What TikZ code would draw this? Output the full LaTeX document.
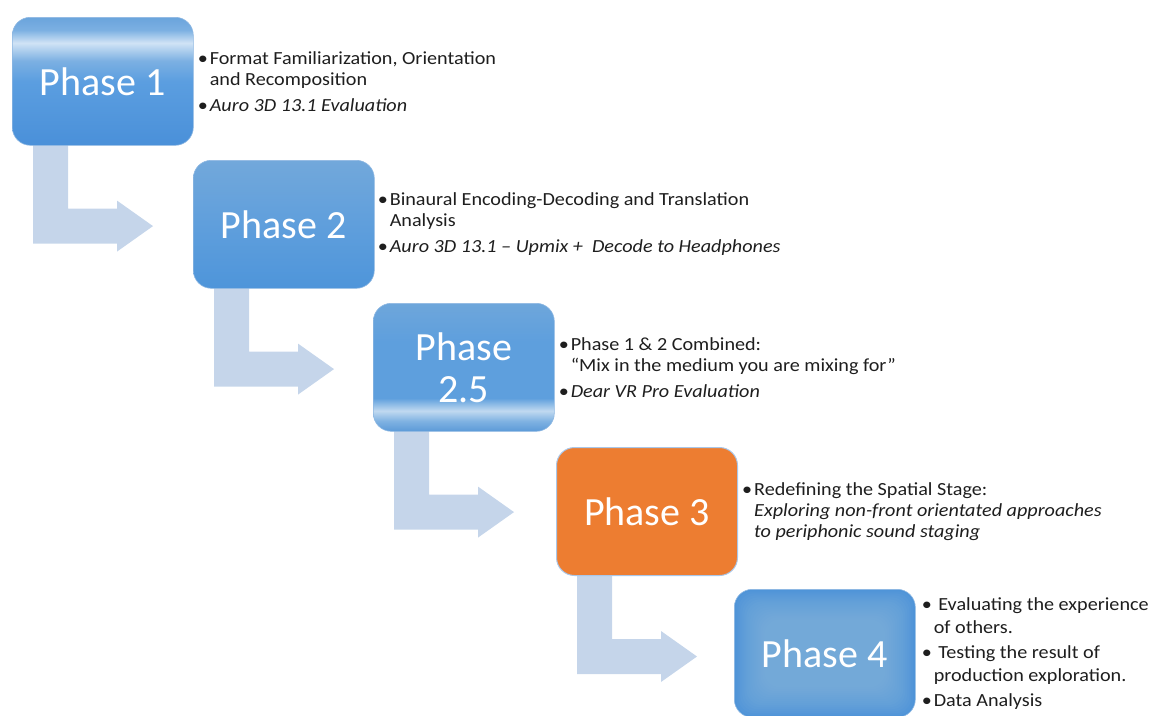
\documentclass[tikz,border=0pt]{standalone}
\usepackage{fontspec}
\setmainfont{Carlito}
\newfontfamily\notefont[FakeStretch=1.09]{Carlito}
\usetikzlibrary{calc}

% palette
\definecolor{arrowfill}{HTML}{C5D5EA}
\definecolor{boxedge}{HTML}{8FB8E2}
\definecolor{phaseorange}{HTML}{ED7D31}
\definecolor{orangeedge}{HTML}{A9C6E8}
\definecolor{notetext}{HTML}{1E1E1E}
\definecolor{bOneTop}{HTML}{6AA4DC}
\definecolor{bOneUp}{HTML}{7CB0E2}
\definecolor{bOneBand}{HTML}{D0E3F5}
\definecolor{bOneLow}{HTML}{5B9EE0}
\definecolor{bOneBot}{HTML}{4A90D9}
\definecolor{bTwoTop}{HTML}{72A8DB}
\definecolor{bTwoMid}{HTML}{5E9EDC}
\definecolor{bTwoBot}{HTML}{4E95DA}
\definecolor{bHalfTop}{HTML}{6EA6DB}
\definecolor{bHalfMid}{HTML}{5E9FDD}
\definecolor{bHalfBand}{HTML}{C0D9F0}
\definecolor{bHalfLow}{HTML}{7FB2E2}
\definecolor{bHalfBot}{HTML}{5C9AD8}
\definecolor{bFourBase}{HTML}{4F94D8}
\definecolor{bFourGlow}{HTML}{8CBBE6}

% box fills: the path spans 25bp (bottom) to 75bp (top)
\pgfdeclareverticalshading{phaseonefill}{100bp}{%
  color(0bp)=(bOneBot); color(25bp)=(bOneBot); color(50bp)=(bOneLow);
  color(58bp)=(bOneUp); color(65bp)=(bOneBand); color(70bp)=(bOneUp);
  color(75bp)=(bOneTop); color(100bp)=(bOneTop)}
\pgfdeclareverticalshading{phasetwofill}{100bp}{%
  color(0bp)=(bTwoBot); color(25bp)=(bTwoBot); color(48bp)=(bTwoMid);
  color(75bp)=(bTwoTop); color(100bp)=(bTwoTop)}
\pgfdeclareverticalshading{phasehalffill}{100bp}{%
  color(0bp)=(bHalfBot); color(25bp)=(bHalfBot); color(29bp)=(bHalfLow);
  color(33bp)=(bHalfBand); color(38bp)=(bHalfMid); color(60bp)=(bHalfMid);
  color(75bp)=(bHalfTop); color(100bp)=(bHalfTop)}

\pgfdeclarelayer{arrows}
\pgfsetlayers{arrows,main}

\newcommand{\itembul}{\makebox[10pt][l]{\kern-2pt\textbullet}}
\newcommand{\itemgap}{\hspace*{10pt}}

\begin{document}
\begin{tikzpicture}[x=1pt,y=-1pt,
  phasebox/.style={rectangle, rounded corners=18pt, minimum width=181pt,
    minimum height=128pt, inner sep=0pt, text=white, align=center,
    font=\fontsize{40}{42}\selectfont, anchor=north west,
    draw=boxedge, line width=0.6pt},
  notes/.style={anchor=west, inner sep=0pt, align=left, text=notetext,
    font=\notefont\fontsize{18.5}{21}\selectfont},
  glowstep/.style={fill=bFourGlow, fill opacity=0.07, draw=none}]

\useasboundingbox (0,0) rectangle (1153,715);

% the five phase boxes
\node[phasebox, shading=phaseonefill] (p1) at (12,17) {Phase 1};
\node[phasebox, shading=phasetwofill] (p2) at (193,160) {Phase 2};
\node[phasebox, shading=phasehalffill] (p25) at (373,303) {Phase\\2.5};
\node[phasebox, fill=phaseorange, draw=orangeedge, line width=1pt] (p3) at (556,447) {Phase 3};
\node[phasebox, fill=bFourBase, path picture={
    \foreach \i in {2,4,...,30}
      \path[glowstep, rounded corners=16pt]
        ($(path picture bounding box.north west)+(\i,\i)$) rectangle
        ($(path picture bounding box.south east)+(-\i,-\i)$);
  }] (p4) at (734,589) {Phase 4};

% bent arrows leading from each box to the next one
\begin{pgfonlayer}{arrows}
  \foreach \src in {p1,p2,p25,p3} {
    \begin{scope}[shift={(\src.south west)}]
      \fill[arrowfill] (21,-6) -- (21,98) -- (105,98) -- (105,106)
        -- (141,80.5) -- (105,55) -- (105,63) -- (56,63) -- (56,-6) -- cycle;
    \end{scope}
  }
\end{pgfonlayer}

% notes beside each box
\node[notes] (n1) at ([xshift=6pt]p1.east)
  {\itembul Format Familiarization, Orientation\\
   \itemgap and Recomposition\\[5pt]
   \itembul\textit{Auro 3D 13.1 Evaluation}};
\node[notes] (n2) at ([xshift=5pt]p2.east)
  {\itembul Binaural Encoding-Decoding and Translation\\
   \itemgap Analysis\\[5pt]
   \itembul\textit{Auro 3D 13.1 – Upmix +\ \ Decode to Headphones}};
\node[notes] (n25) at ([xshift=6pt]p25.east)
  {\itembul Phase 1 \& 2 Combined:\\
   \itemgap “Mix in the medium you are mixing for”\\[5pt]
   \itembul\textit{Dear VR Pro Evaluation}};
\node[notes] (n3) at ([xshift=6pt]p3.east)
  {\itembul Redefining the Spatial Stage:\\
   \itemgap\textit{Exploring non-front orientated approaches}\\
   \itemgap\textit{to periphonic sound staging}};
\node[notes] (n4) at ([xshift=8pt]p4.east)
  {\itembul\ Evaluating the experience\\[2pt]
   \hspace*{10pt}of others.\\[4pt]
   \itembul\ Testing the result of\\[2pt]
   \hspace*{10pt}production exploration.\\[4pt]
   \itembul Data Analysis};

\end{tikzpicture}
\end{document}
